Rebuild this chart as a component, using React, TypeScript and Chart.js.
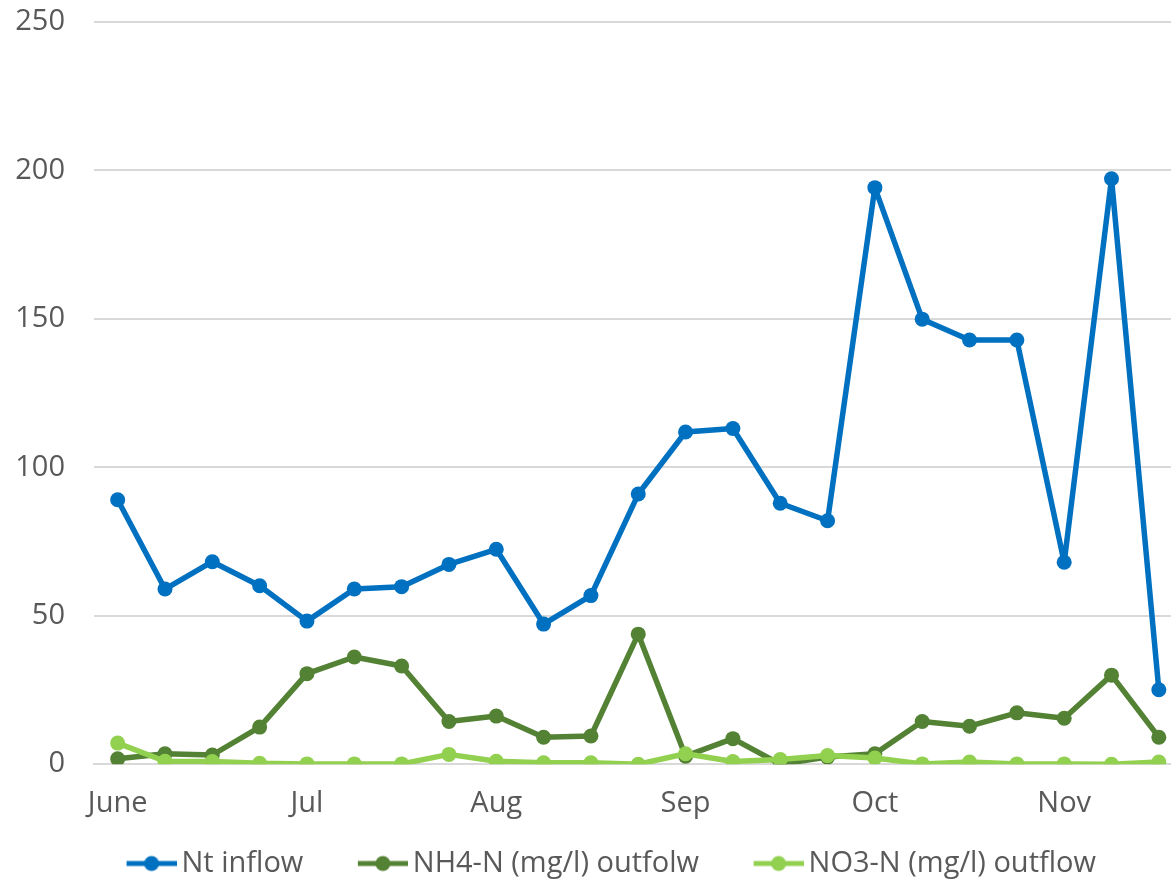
import { useEffect, useRef } from "react";
import { Chart, registerables } from "chart.js";

Chart.register(...registerables);

// Month labels sit on every fourth sampling date
const categories = [
  "June", "", "", "",
  "Jul", "", "", "",
  "Aug", "", "", "",
  "Sep", "", "", "",
  "Oct", "", "", "",
  "Nov", "", "",
];

const ntInflow = [
  89.1, 59.0, 68.2, 60.1, 48.2, 59.0, 59.8, 67.3, 72.4, 47.2, 56.8, 91.0,
  111.9, 113.1, 87.9, 82.0, 194.2, 149.9, 142.9, 142.9, 68.0, 197.2, 25.1,
];

const nh4Outflow = [
  1.8, 3.5, 3.1, 12.5, 30.5, 36.1, 33.1, 14.4, 16.2, 9.1, 9.5, 43.8,
  2.7, 8.6, 0.0, 2.4, 3.5, 14.4, 12.8, 17.3, 15.5, 30.0, 9.1,
];

const no3Outflow = [
  7.1, 1.0, 0.9, 0.3, 0.1, 0.1, 0.1, 3.3, 1.0, 0.5, 0.5, 0.0,
  3.5, 0.9, 1.6, 2.9, 2.1, 0.1, 0.7, 0.1, 0.1, 0.0, 0.7,
];

const seriesNames = ["Nt inflow", "NH4-N (mg/l) outfolw", "NO3-N (mg/l) outflow"];
const seriesColors = ["#0070C0", "#548235", "#92D050"];

const yMin = 0;
const yMax = 250;
const yStep = 50;

const FONT = "'Open Sans', 'Liberation Sans', sans-serif";
const FONT_SIZE = 29;
const TEXT_COLOR = "#595959";
const GRID_COLOR = "#D9D9D9";

// Legend swatch: short line with a round marker, right-aligned in a wider transparent box
const LEGEND_PADDING = 3;
const SWATCH_BOX = 92;
const SWATCH_IMG = SWATCH_BOX + 19;
const SWATCH_LINE = 50;

function lineMarker(color: string): HTMLCanvasElement {
  const c = document.createElement("canvas");
  c.width = SWATCH_IMG;
  c.height = 18;
  const ctx = c.getContext("2d")!;
  const x0 = SWATCH_IMG - SWATCH_LINE;
  ctx.strokeStyle = color;
  ctx.lineWidth = 5;
  ctx.beginPath();
  ctx.moveTo(x0, 9);
  ctx.lineTo(SWATCH_IMG, 9);
  ctx.stroke();
  ctx.fillStyle = color;
  ctx.beginPath();
  ctx.arc(x0 + SWATCH_LINE / 2, 9, 7.5, 0, Math.PI * 2);
  ctx.fill();
  return c;
}

export default function App() {
  const canvasRef = useRef<HTMLCanvasElement | null>(null);

  useEffect(() => {
    document.body.style.margin = "0";
    const canvas = canvasRef.current;
    if (!canvas) return;

    const values = [ntInflow, nh4Outflow, no3Outflow];
    const datasets = values.map((data, i) => ({
      label: seriesNames[i],
      data,
      borderColor: seriesColors[i],
      backgroundColor: seriesColors[i],
      borderWidth: 5.5,
      borderJoinStyle: "round" as const,
      borderCapStyle: "round" as const,
      pointRadius: 7.5,
      pointBorderWidth: 0,
      pointBackgroundColor: seriesColors[i],
      tension: 0,
      fill: false,
      order: 3 - i,
      yAxisID: "y",
    }));

    const markers = seriesColors.map(lineMarker);

    const chart = new Chart(canvas, {
      type: "line",
      data: { labels: categories, datasets },
      options: {
        responsive: false,
        animation: false,
        devicePixelRatio: 1,
        layout: { padding: { left: -19, right: 0, top: 22, bottom: -8 } },
        plugins: {
          tooltip: { enabled: false },
          legend: {
            position: "bottom",
            labels: {
              font: { family: FONT, size: FONT_SIZE },
              color: TEXT_COLOR,
              usePointStyle: true,
              pointStyleWidth: SWATCH_BOX,
              boxHeight: 18,
              padding: LEGEND_PADDING,
              generateLabels: () =>
                seriesNames.map((name, i) => ({
                  text: name,
                  fillStyle: seriesColors[i],
                  strokeStyle: seriesColors[i],
                  lineWidth: 0,
                  pointStyle: markers[i],
                  hidden: false,
                  datasetIndex: i,
                  fontColor: TEXT_COLOR,
                })),
            },
          },
        },
        scales: {
          x: {
            type: "category",
            offset: true,
            grid: { display: false, drawTicks: false },
            border: { display: true, color: GRID_COLOR, width: 2 },
            ticks: {
              autoSkip: false,
              maxRotation: 0,
              minRotation: 0,
              padding: 22.6,
              font: { family: FONT, size: FONT_SIZE },
              color: TEXT_COLOR,
            },
            afterFit: (scale: any) => {
              scale.height = 81.8;
            },
          },
          y: {
            position: "left",
            min: yMin,
            max: yMax,
            grid: { color: GRID_COLOR, lineWidth: 2, drawTicks: false },
            border: { display: false },
            ticks: {
              stepSize: yStep,
              padding: 29,
              font: { family: FONT, size: FONT_SIZE },
              color: TEXT_COLOR,
            },
            afterFit: (scale: any) => {
              scale.width = 113;
              scale.paddingTop = 0;
              scale.paddingBottom = 0;
            },
          },
          yRightSpacer: {
            position: "right",
            display: true,
            grid: { display: false, drawTicks: false },
            border: { display: false },
            ticks: { display: false },
            afterFit: (scale: any) => {
              scale.width = 4;
              scale.paddingTop = 0;
              scale.paddingBottom = 0;
            },
          },
        },
      },
    });

    return () => chart.destroy();
  }, []);

  return (
    <div style={{ width: 1171, height: 880, overflow: "hidden", position: "relative", background: "#fff" }}>
      <canvas ref={canvasRef} width={1190} height={880} style={{ display: "block", width: 1190, height: 880 }} />
    </div>
  );
}
